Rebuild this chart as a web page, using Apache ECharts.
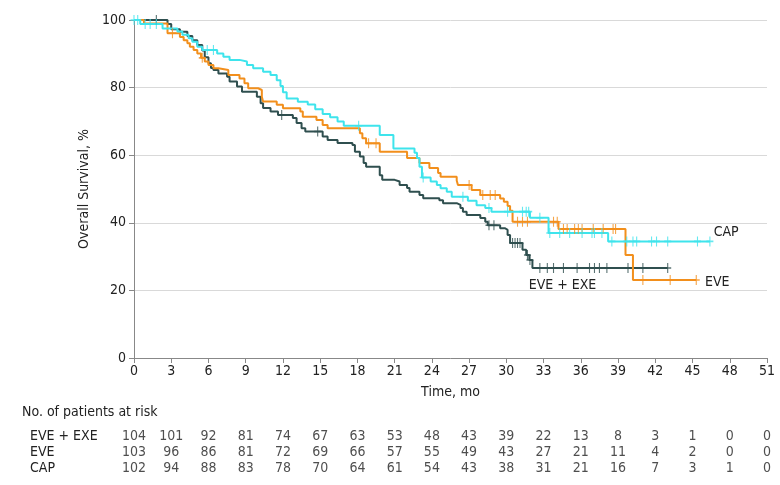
<!DOCTYPE html>
<html>
<head>
    <meta charset="utf-8">
    <title>Overall survival</title>
    <script src="https://cdn.jsdelivr.net/npm/echarts@6/dist/echarts.min.js"></script>
    <style>
        body { margin: 0; background: #fff; }
        #main { width: 780px; height: 485px; }
    </style>
</head>
<body>
<div id="main"></div>
<script type="text/javascript">
    // groups and at-risk table
    var groups = ['EVE + EXE', 'EVE', 'CAP'];
    var riskTimes = [0, 3, 6, 9, 12, 15, 18, 21, 24, 27, 30, 33, 36, 39, 42, 45, 48, 51];
    var riskEveExe = [104, 101, 92, 81, 74, 67, 63, 53, 48, 43, 39, 22, 13, 8, 3, 1, 0, 0];
    var riskEve = [103, 96, 86, 81, 72, 69, 66, 57, 55, 49, 43, 27, 21, 11, 4, 2, 0, 0];
    var riskCap = [102, 94, 88, 83, 78, 70, 64, 61, 54, 43, 38, 31, 21, 16, 7, 3, 1, 0];

    // Kaplan-Meier steps: [month, survival %] (value after the drop)
    var stepsEveExe = [[0, 100], [2.7, 98.8], [3.0, 97.3], [3.7, 96.5], [4.3, 95.3], [4.7, 94], [5.1, 92.6], [5.5, 91],
        [5.7, 89], [6.0, 87.2], [6.2, 85.8], [6.4, 85.2], [6.8, 84.2], [7.5, 83.2], [7.7, 81.8], [8.3, 80.3], [8.7, 78.8],
        [9.9, 77.3], [10.2, 75.4], [10.4, 74], [11.0, 72.9], [11.6, 71.9], [12.8, 71], [13.1, 69.5], [13.5, 68], [13.8, 67],
        [15.2, 65.5], [15.6, 64.5], [16.4, 63.6], [17.6, 63], [17.8, 61], [18.2, 59.6], [18.5, 57.7], [18.7, 56.6],
        [19.8, 54.1], [20.0, 52.7], [21.0, 52.2], [21.4, 51.2], [22.0, 50.3], [22.2, 49.2], [23.0, 48.2], [23.3, 47.3],
        [24.6, 46.7], [24.9, 45.8], [26.0, 45.3], [26.3, 44.4], [26.5, 43.3], [26.8, 42.3], [27.9, 41.4], [28.3, 40.3],
        [28.5, 39.3], [29.5, 38.4], [29.9, 37.9], [30.1, 36.4], [30.3, 34], [31.3, 32], [31.6, 30.5], [31.85, 29],
        [32.1, 26.6], [43.0, 26.6]];
    var censEveExe = [[1.8, 100], [11.9, 71.9], [14.8, 67], [28.6, 39.3], [29.0, 39.3], [30.5, 34], [30.7, 34], [30.9, 34],
        [31.1, 34], [31.7, 30.5], [31.9, 29], [32.7, 26.6], [33.3, 26.6], [33.8, 26.6], [34.6, 26.6], [35.7, 26.6],
        [36.7, 26.6], [37.1, 26.6], [37.5, 26.6], [38.1, 26.6], [39.8, 26.6], [41.0, 26.6], [43.0, 26.6]];

    var stepsEve = [[0, 100], [0.8, 99], [2.7, 96.1], [3.7, 95], [4.0, 94], [4.3, 93.1], [4.5, 92.1], [4.8, 91.1],
        [5.1, 90.1], [5.4, 88.8], [5.7, 87.7], [6.0, 86.7], [6.4, 85.7], [6.8, 85.2], [7.6, 83.7], [8.5, 82.7], [8.9, 81.3],
        [9.2, 79.8], [10.0, 79.3], [10.3, 77.3], [10.4, 75.9], [11.5, 74.9], [12.0, 73.9], [13.4, 72.9], [13.6, 71.4],
        [14.7, 70.4], [15.2, 68.9], [15.6, 68], [18.2, 66.5], [18.4, 65], [18.7, 63.5], [19.8, 61], [22.0, 59.2],
        [23.0, 57.7], [23.8, 56.2], [24.5, 54.7], [24.7, 53.6], [26.0, 52.5], [26.1, 51.2], [27.2, 49.7], [27.9, 48.2],
        [29.5, 47.2], [29.8, 46.2], [30.1, 45], [30.3, 43.6], [30.5, 40.3], [34.2, 38.2], [39.6, 30.5], [40.2, 23.1],
        [45.3, 23.1]];
    var censEve = [[3.1, 96.1], [5.5, 88.8], [18.9, 63.5], [19.5, 63.5], [27.0, 51.2], [28.1, 48.2], [28.7, 48.2],
        [29.1, 48.2], [30.9, 40.3], [31.3, 40.3], [31.7, 40.3], [33.8, 40.3], [34.1, 40.3], [34.6, 38.2], [34.9, 38.2],
        [35.5, 38.2], [35.8, 38.2], [36.1, 38.2], [37.0, 38.2], [37.8, 38.2], [38.6, 38.2], [38.8, 38.2], [41.0, 23.1],
        [43.2, 23.1], [45.3, 23.1]];

    var stepsCap = [[0, 100], [0.5, 98.8], [2.3, 97.5], [3.5, 96.6], [3.9, 95.6], [4.4, 94.6], [4.7, 93.6], [5.1, 92.1],
        [5.5, 91.1], [6.7, 90.1], [7.2, 89.1], [7.7, 88.2], [8.5, 87.7], [9.1, 86.7], [9.6, 85.7], [10.4, 84.7],
        [11.0, 83.7], [11.5, 82.2], [11.8, 80.5], [12.0, 78.6], [12.3, 76.8], [13.2, 75.8], [14.0, 75], [14.6, 73.6],
        [15.2, 72.2], [15.8, 71.2], [16.4, 70], [16.9, 68.7], [19.8, 66], [20.9, 62], [22.6, 60.7], [22.8, 59.2],
        [23.0, 56.6], [23.2, 53.4], [23.9, 52.2], [24.4, 51.2], [24.7, 50.2], [25.2, 49.2], [25.6, 47.7], [26.9, 46.5],
        [27.6, 45.2], [28.3, 44.4], [28.8, 43.3], [31.9, 41.5], [33.4, 37], [38.2, 34.5], [46.4, 34.5]];
    var censCap = [[0, 100], [0.3, 100], [0.9, 98.8], [1.3, 98.8], [1.8, 98.8], [5.9, 91.1], [6.4, 91.1], [18.1, 68.7],
        [23.3, 53.4], [26.5, 47.7], [28.6, 44.4], [30.1, 43.3], [31.3, 43.3], [31.6, 43.3], [31.8, 43.3], [32.7, 41.5],
        [33.5, 37], [34.3, 37], [35.1, 37], [36.1, 37], [36.9, 37], [37.1, 37], [37.7, 37], [38.5, 34.5], [39.7, 34.5],
        [40.2, 34.5], [40.5, 34.5], [41.7, 34.5], [42.1, 34.5], [43.0, 34.5], [45.4, 34.5], [46.4, 34.5]];

    // curve end labels [month, %]
    var labelEveExe = [31.8, 21.6];
    var labelEve = [46.0, 22.5];
    var labelCap = [46.7, 37.3];

    var colors = ['#2f4f4f', '#f28f1c', '#3ee4ec'];
    var font = '"Liberation Sans Narrow", "DejaVu Sans Condensed", sans-serif';
    var censorSymbol = 'path://M5,0 L5,10 M2,5 L8,5';

    var riskRows = [riskEveExe, riskEve, riskCap];
    var riskData = [];
    riskRows.forEach(function (row, r) {
        row.forEach(function (v, i) {
            riskData.push([riskTimes[i], groups[r], v]);
        });
    });

    function lineSeries(name, steps, color, labelPos) {
        return {
            name: name,
            type: 'line',
            step: 'end',
            data: steps,
            symbol: 'none',
            lineStyle: { color: color, width: 2 },
            z: 3,
            markPoint: {
                symbol: 'circle',
                symbolSize: 0,
                data: [{ coord: labelPos }],
                label: {
                    show: true,
                    position: [0, 0],
                    align: 'left',
                    verticalAlign: 'middle',
                    formatter: name,
                    color: '#222',
                    fontSize: 14,
                    fontFamily: font
                }
            }
        };
    }

    function censorSeries(name, pts, color) {
        return {
            name: name + ' censored',
            type: 'scatter',
            data: pts,
            symbol: censorSymbol,
            symbolSize: [7, 10],
            itemStyle: { color: 'rgba(0,0,0,0)', borderColor: color, borderWidth: 1.3 },
            z: 4
        };
    }

    var myChart = echarts.init(document.getElementById('main'));
    var option = {
        animation: false,
        textStyle: { fontFamily: font },
        grid: [
            { left: 134, right: 13, top: 20, bottom: 127 },
            { left: 134, right: 13, top: 428, height: 48 }
        ],
        xAxis: [{
            gridIndex: 0,
            type: 'value',
            min: 0,
            max: 51,
            interval: 3,
            name: 'Time, mo',
            nameLocation: 'middle',
            nameGap: 27,
            nameTextStyle: { fontSize: 14, color: '#222', fontFamily: font },
            axisLine: { lineStyle: { color: '#888' } },
            axisTick: { show: true, length: 5, lineStyle: { color: '#888' } },
            axisLabel: { fontSize: 14, color: '#222', margin: 6 },
            splitLine: { show: false }
        }, {
            gridIndex: 1,
            type: 'value',
            min: 0,
            max: 51,
            show: false
        }],
        yAxis: [{
            gridIndex: 0,
            type: 'value',
            min: 0,
            max: 100,
            interval: 20,
            name: 'Overall Survival, %',
            nameLocation: 'middle',
            nameGap: 40,
            nameTextStyle: { fontSize: 14, color: '#222', fontFamily: font },
            axisLine: { show: true, lineStyle: { color: '#888' } },
            axisTick: { show: true, length: 5, lineStyle: { color: '#888' } },
            axisLabel: { fontSize: 14, color: '#222', margin: 8 },
            splitLine: { show: true, lineStyle: { color: '#d9d9d9', width: 1 } }
        }, {
            gridIndex: 1,
            type: 'category',
            data: groups,
            inverse: true,
            axisLine: { show: false },
            axisTick: { show: false },
            axisLabel: { interval: 0, align: 'left', margin: 104, fontSize: 14, color: '#222' }
        }],
        graphic: [{
            type: 'text',
            left: 22,
            top: 405,
            style: { text: 'No. of patients at risk', fontSize: 14, fill: '#222', fontFamily: font }
        }],
        series: [
            lineSeries('EVE + EXE', stepsEveExe, colors[0], labelEveExe),
            lineSeries('EVE', stepsEve, colors[1], labelEve),
            lineSeries('CAP', stepsCap, colors[2], labelCap),
            censorSeries('EVE + EXE', censEveExe, colors[0]),
            censorSeries('EVE', censEve, colors[1]),
            censorSeries('CAP', censCap, colors[2]),
            {
                name: 'At risk',
                type: 'scatter',
                xAxisIndex: 1,
                yAxisIndex: 1,
                data: riskData,
                symbolSize: 0,
                label: {
                    show: true,
                    position: 'inside',
                    formatter: function (p) { return p.value[2]; },
                    fontSize: 14,
                    color: '#222',
                    fontFamily: font
                }
            }
        ]
    };
    myChart.setOption(option);
</script>
</body>
</html>
